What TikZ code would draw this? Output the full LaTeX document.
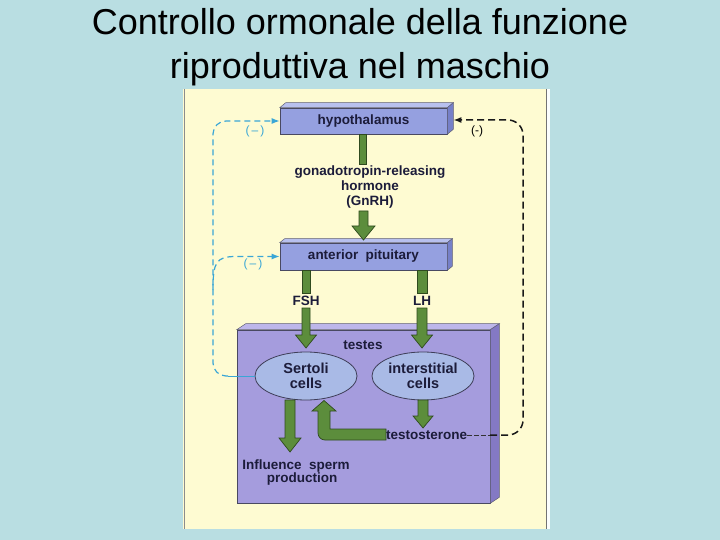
\documentclass[tikz,border=0pt]{standalone}
\usepackage{fontspec}
\setmainfont{Liberation Sans}
\usetikzlibrary{calc,arrows.meta,shapes.geometric}
\definecolor{bgblue}{HTML}{B9DEE2}
\definecolor{panel}{HTML}{FEFBD2}
\definecolor{boxfront}{HTML}{95A0E0}
\definecolor{boxtop}{HTML}{B8C0EE}
\definecolor{boxside}{HTML}{7680C8}
\definecolor{testfront}{HTML}{A59CDD}
\definecolor{testtop}{HTML}{BDB6EA}
\definecolor{testside}{HTML}{8479C4}
\definecolor{ellfill}{HTML}{A9BAE6}
\definecolor{grn}{HTML}{5C8D3C}
\definecolor{grndark}{HTML}{2F4A1E}
\definecolor{ink}{HTML}{1C1C3A}
\definecolor{dashblue}{HTML}{3AA6D6}
\tikzset{
  lbl/.style={font=\fontsize{13.5}{15}\selectfont\bfseries, text=ink, align=center, inner sep=0pt},
  frontbox/.style={draw=ink!80, line width=0.6pt, fill=boxfront, minimum width=167pt, inner sep=0pt, font=\fontsize{13.5}{15}\selectfont\bfseries, text=ink},
  garrow/.style={fill=grn, draw=grndark, line width=0.7pt, line join=miter},
  ell/.style={ellipse, draw=ink!85, line width=0.8pt, fill=ellfill, minimum width=102pt, minimum height=48pt, inner sep=0pt, align=center, font=\fontsize{14.5}{14.5}\selectfont\bfseries, text=ink},
  bluedash/.style={draw=dashblue, line width=1.2pt, dash pattern=on 6pt off 4pt},
  blackdash/.style={draw=black!90, line width=1.5pt, dash pattern=on 7pt off 4pt},
  minus/.style={font=\fontsize{12}{14}\selectfont, inner sep=0pt}
}
% vertical down arrow: centre x, top y, head-start y, tip y, bar half width, head half width
\newcommand{\gdown}[6]{\draw[garrow] (#1-#5,#2) -- (#1+#5,#2) -- (#1+#5,#3) -- (#1+#6,#3) -- (#1,#4) -- (#1-#6,#3) -- (#1-#5,#3) -- cycle;}
\newcommand{\gbar}[4]{\draw[garrow] (#1-#4,#2) rectangle (#1+#4,#3);}
\newcommand{\threeD}[5]{%
  \fill[#4, draw=ink!70, line width=0.5pt] (#1.north west) -- ++(#2,#3) -- ($(#1.north east)+(#2,#3)$) -- (#1.north east) -- cycle;
  \fill[#5, draw=ink!70, line width=0.5pt] (#1.north east) -- ++(#2,#3) -- ($(#1.south east)+(#2,#3)$) -- (#1.south east) -- cycle;}
\begin{document}
\begin{tikzpicture}[x=1pt,y=-1pt]
\fill[bgblue] (0,0) rectangle (720,540);
\useasboundingbox (0,0) rectangle (720,540);
% title
\node[font=\fontsize{36}{44}\selectfont, align=center, text=black] (title) at (360,47) {Controllo ormonale della funzione\\riproduttiva nel maschio};
% panel
\fill[white!95!bgblue] (546,89) rectangle (550,529);
\fill[panel] (183,89) rectangle (546,529);
\draw[black!55, line width=0.6pt] (546,89) -- (546,529);
\draw[black!45, line width=0.5pt] (184,89) -- (184,529);
% hypothalamus
\node[frontbox, minimum height=26pt] (hypo) at (363.5,121) {hypothalamus};
\threeD{hypo}{6}{-5}{boxtop}{boxside}
% pituitary
\node[frontbox, minimum height=27pt] (pit) at (363.5,256.5) {anterior\ \ pituitary};
\threeD{pit}{5}{-4}{boxtop}{boxside}
% GnRH
\gbar{362.5}{134}{164}{3.5}
\node[lbl] (gnrh) at (370,187) {gonadotropin-releasing\\hormone\\(GnRH)};
\gdown{363.5}{211}{226}{240}{4.5}{11.5}
% FSH / LH
\gbar{306}{270}{293}{4}
\node[lbl] (fsh) at (306,301) {FSH};
\gbar{422}{270}{293}{5}
\node[lbl] (lh) at (422,301) {LH};
% testes box
\node[draw=ink!80, line width=0.6pt, fill=testfront, minimum width=253pt, minimum height=173pt, inner sep=0pt] (testes) at (363.5,416.5) {};
\threeD{testes}{9}{-6}{testtop}{testside}
\node[lbl] (testlbl) at (363,345) {testes};
\gdown{306}{308}{335}{348}{4}{10.5}
\gdown{422}{308}{335}{348}{5}{10.5}
% ellipses
\node[ell] (sert) at (306,376) {Sertoli\\cells};
\node[ell] (inter) at (423,376) {interstitial\\cells};
% outputs
\gdown{290}{400}{438}{452}{5}{11}
\gdown{423}{400}{416}{428}{5}{10}
\node[lbl, anchor=west] (testo) at (386,435) {testosterone};
\draw[garrow] (testo.west |- 0,429) -- (330,429) -- (330,411) -- (336,411) -- (324,400.5) -- (312,411) -- (318,411) [rounded corners=7pt] -- (318,440) [sharp corners] -- (testo.west |- 0,440) -- cycle;
\node[lbl] (infl1) at (296,466) {Influence\ \ sperm};
\node[lbl] (infl2) at (302,479.5) {production};
% feedback loops
\coordinate (sbend) at (228,376);
\draw[dashblue, line width=0.6pt] (sert.west) -- (sbend);
\draw[bluedash, rounded corners=13pt, -{Latex[length=8pt,width=6pt]}] (sbend) -- (213,376) -- (213,121) -- (hypo.west);
\draw[bluedash, -{Latex[length=8pt,width=6pt]}] (213,290) .. controls (213,262) and (216,256.5) .. (236,256.5) -- (pit.west);
\coordinate (hyposide) at ($(hypo.east)+(6,-1)$);
\coordinate (tbend) at (490,435);
\draw[black!80, line width=0.6pt, dash pattern=on 5pt off 2pt] (testo.east) -- (tbend);
\draw[blackdash, rounded corners=15pt, -{Latex[length=8pt,width=6pt]}] (tbend) -- (523,435) -- (523,120) -- (hyposide);
\node[minus, text=dashblue] (m1) at (255,131) {(\,--\,)};
\node[minus, text=dashblue] (m2) at (253,264) {(\,--\,)};
\node[minus, text=black] (m3) at (477,131) {(-)};
\end{tikzpicture}
\end{document}
